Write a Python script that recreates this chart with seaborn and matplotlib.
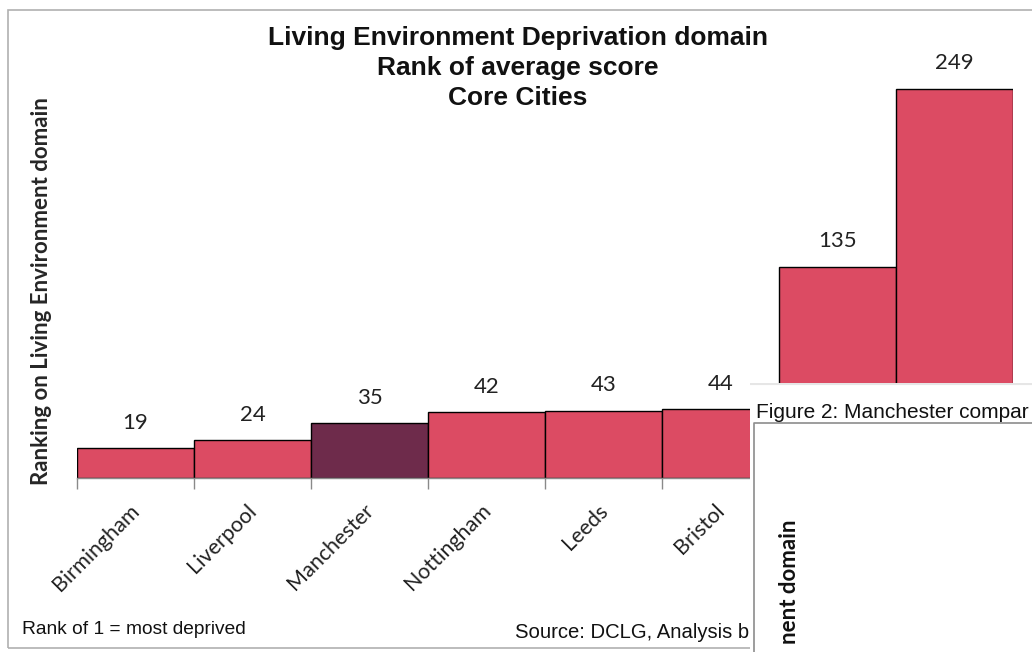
"""Living Environment Deprivation domain - rank of average score, Core Cities."""
import pandas as pd
import numpy as np
import matplotlib.pyplot as plt
import matplotlib.ticker as ticker
import matplotlib.transforms as mtransforms
from matplotlib.patches import Rectangle
import seaborn as sns

sns.set_theme(style='white')
plt.rcParams['font.family'] = ['Liberation Sans', 'DejaVu Sans']

# Data (last two labels are hidden under the overlay)
cities = ['Birmingham', 'Liverpool', 'Manchester', 'Nottingham', 'Leeds', 'Bristol',
          'Sheffield', 'Newcastle']
ranks = [19, 24, 35, 42, 43, 44, 135, 249]
highlight = 'Manchester'

BAR_RED = '#DC4B63'
BAR_PLUM = '#6E2B4B'
palette = {c: (BAR_PLUM if c == highlight else BAR_RED) for c in cities}
CALIBRI_ISH = ['Lato', 'DejaVu Sans']

df = pd.DataFrame({'City': cities, 'Rank': ranks})

W, H = 1032, 652
fig = plt.figure(figsize=(W / 100, H / 100), dpi=100)
fig.patch.set_facecolor('white')

# outer frame of the chart
fig.patches.append(Rectangle((8 / W, 1 - 648 / H), (1040 - 8) / W, (648 - 10) / H,
                             transform=fig.transFigure, fill=False,
                             edgecolor='#B0B0B0', linewidth=1.2, zorder=1))

ax = fig.add_axes([77 / W, 1 - 478 / H, (1013 - 77) / W, 422 / H])
sns.barplot(data=df, x='City', y='Rank', hue='City', palette=palette, legend=False,
            width=1.0, edgecolor='black', linewidth=1.0, saturation=1, ax=ax)
ax.set_ylim(0, 270)
ax.set_xlim(-0.5, len(cities) - 0.5)
for s in ['top', 'right', 'left']:
    ax.spines[s].set_visible(False)
ax.spines['bottom'].set_color('#8A8A8A')
ax.spines['bottom'].set_linewidth(1.0)
ax.set_yticks([])
ax.set_xlabel('')
ax.set_ylabel('Ranking on Living Environment domain', fontsize=16, fontweight='bold',
              family=CALIBRI_ISH)
ax.yaxis.set_label_coords(-0.0267, 0.443)

# labels at bar centres, tick marks at bar boundaries
ax.xaxis.set_minor_locator(ticker.FixedLocator(np.arange(-0.5, len(cities), 1.0)))
ax.tick_params(axis='x', which='major', length=0, pad=16)
ax.tick_params(axis='x', which='minor', length=8, width=1.0, color='#8A8A8A', bottom=True)
shift = mtransforms.ScaledTranslation(-6 / 100, 0, fig.dpi_scale_trans)
for lab in ax.get_xticklabels():
    lab.set_rotation(45)
    lab.set_ha('right')
    lab.set_rotation_mode('anchor')
    lab.set_fontsize(15.5)
    lab.set_family(CALIBRI_ISH)
    lab.set_color('#222222')
    lab.set_transform(lab.get_transform() + shift)

for i, v in enumerate(ranks):
    ax.text(i, v + 10, str(v), ha='center', va='bottom', fontsize=16,
            family=CALIBRI_ISH, color='#222222')

fig.text(518 / W, 1 - 68 / H, 'Living Environment Deprivation domain\nRank of average score\nCore Cities',
         ha='center', va='center', fontsize=19, fontweight='bold', linespacing=1.3,
         color='#111111')
fig.text(22 / W, 1 - 630 / H, 'Rank of 1 = most deprived', ha='left', va='center',
         fontsize=13.8, color='#111111')
fig.text(515 / W, 1 - 632 / H, 'Source: DCLG, Analysis b', ha='left', va='center',
         fontsize=14.6, color='#111111')

# overlapping page fragment (next figure) in the lower right
ov = fig.add_axes([750 / W, 0, (W - 750) / W, (H - 383) / H])
ov.set_zorder(10)
ov.set_facecolor('white')
ov.set_xlim(750, W)
ov.set_ylim(H, 383)
ov.set_xticks([])
ov.set_yticks([])
for s in ov.spines.values():
    s.set_visible(False)
ov.plot([750, W], [384, 384], color='#E6E6E6', linewidth=1.5)
ov.plot([754, 754, W], [H, 423, 423], color='#8C8C8C', linewidth=1.2)
ov.text(756, 412, 'Figure 2: Manchester compar', ha='left', va='center',
        fontsize=15, color='#111111')
ov.text(790, 520, 'nent domain', rotation=90, ha='center', va='top',
        fontsize=16, fontweight='bold', family=CALIBRI_ISH, color='#111111')

fig.savefig('out.png', dpi=100)
